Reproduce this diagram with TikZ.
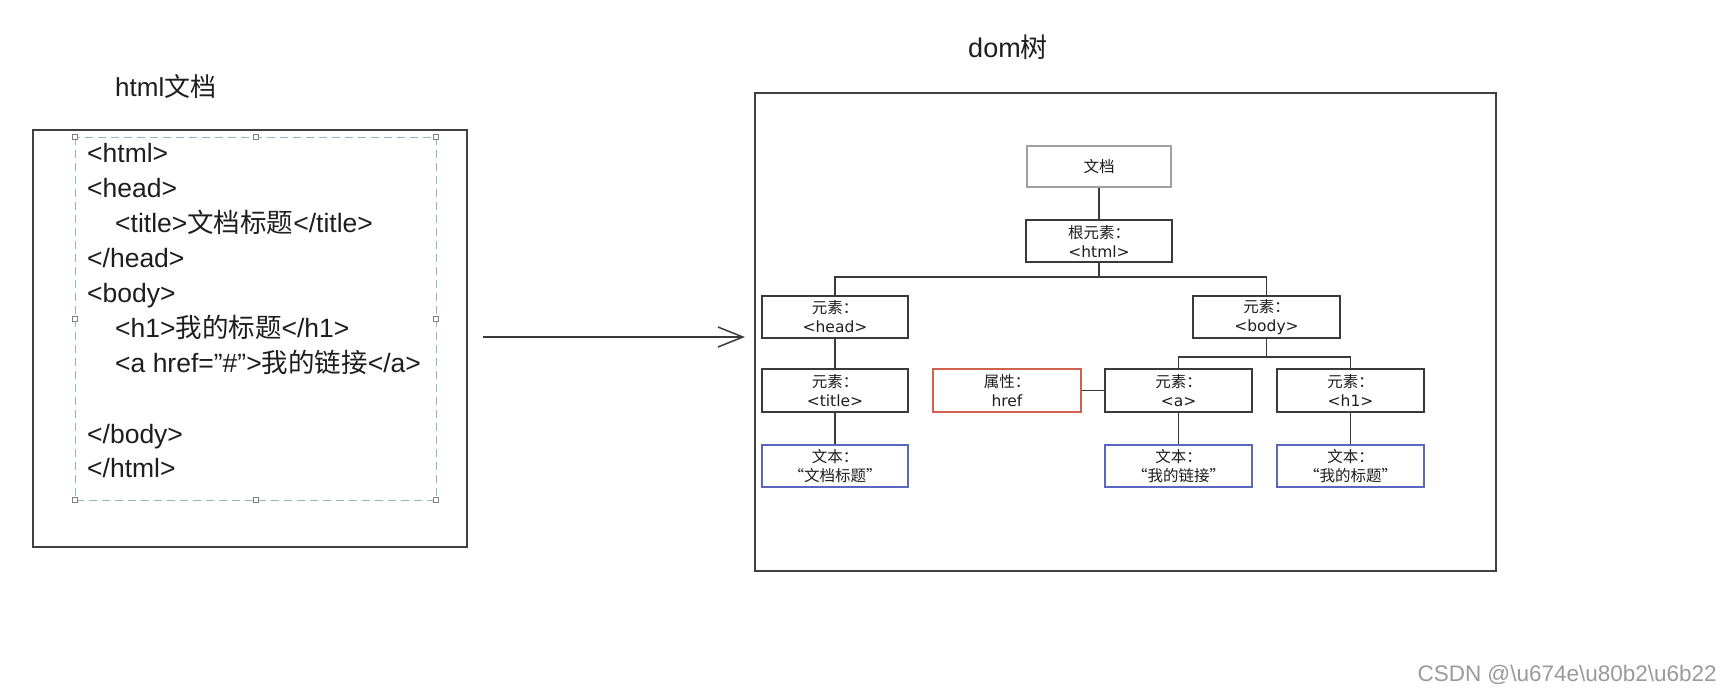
\documentclass[tikz,border=0pt]{standalone}
\usepackage{fontspec}
\setmainfont{Liberation Sans}
\newfontfamily\cjk{Noto Sans CJK SC}
\newfontfamily\dv{DejaVu Sans}
\usetikzlibrary{arrows.meta}
\definecolor{boxline}{HTML}{3A3A3A}
\definecolor{docline}{HTML}{A0A0A0}
\definecolor{redline}{HTML}{D0604F}
\definecolor{blueline}{HTML}{5A66C0}
\definecolor{selline}{HTML}{8FB8C8}
\definecolor{panelline}{HTML}{404040}
\definecolor{txt}{HTML}{1E1E1E}
\definecolor{wm}{HTML}{9A9A9A}
\tikzset{
  panel/.style={draw=panelline, line width=1.8pt, inner sep=0pt},
  tbox/.style={draw=boxline, line width=1.6pt, fill=white, minimum width=146pt, minimum height=42pt,
    inner sep=0pt, align=center, text=txt, font=\fontsize{15.5}{19}\selectfont},
  docbox/.style={tbox, draw=docline, minimum width=144pt, minimum height=41pt},
  attrbox/.style={tbox, draw=redline},
  textbox/.style={tbox, draw=blueline},
  conn/.style={draw=boxline, line width=1.6pt},
  codeline/.style={anchor=mid west, inner sep=0pt, text=txt, font=\fontsize{26.5}{30}\selectfont},
  handle/.style={draw=gray, fill=white, line width=0.8pt, minimum size=5pt, inner sep=0pt},
}
\begin{document}
\begin{tikzpicture}[x=1pt,y=-1pt]
\useasboundingbox (0,0) rectangle (1732,691);
\fill[white] (0,0) rectangle (1732,691);

% left panel
\node[codeline, font=\fontsize{26}{30}\selectfont] (ltitle) at (115,94) {html{\cjk 文档}};
\node[panel, minimum width=434pt, minimum height=417pt] (left) at (250,338.5) {};
\draw[selline, line width=0.9pt, dash pattern=on 8pt off 5pt] (75,137) rectangle (436,500);
\foreach \hx/\hy [count=\i] in {75/137,256/137,436/137,75/319,436/319,75/500,256/500,436/500}
  \node[handle] (h\i) at (\hx,\hy) {};

\node[codeline] (l1) at (87,160) {<html>};
\node[codeline] (l2) at (87,195) {<head>};
\node[codeline] (l3) at (115,230) {<title>{\cjk 文档标题}</title>};
\node[codeline] (l4) at (87,265) {</head>};
\node[codeline] (l5) at (87,300) {<body>};
\node[codeline] (l6) at (115,335) {<h1>{\cjk 我的标题}</h1>};
\node[codeline] (l7) at (115,370) {<a href="\#">{\cjk 我的链接}</a>};
\node[codeline] (l8) at (87,441) {</body>};
\node[codeline] (l9) at (87,475) {</html>};

% arrow
\coordinate (as) at (483,337);
\coordinate (ae) at (745,337);
\draw[line width=1.5pt, boxline, -{Straight Barb[length=25pt, width=20pt, line width=1.5pt]}] (as) -- (ae);

% right panel
\node[anchor=mid, inner sep=0pt, text=txt, font=\fontsize{27}{30}\selectfont] (rtitle) at (1008,55) {dom{\cjk 树}};
\node[panel, minimum width=741pt, minimum height=478pt] (right) at (1125.5,332) {};

\node[docbox] (doc) at (1099,166.5) {{\cjk 文档}};
\node[tbox] (root) at (1099,241) {{\cjk 根元素：}\\{\dv <html>}};
\node[tbox] (head) at (835,317) {{\cjk 元素：}\\{\dv <head>}};
\node[tbox, minimum width=147pt] (body) at (1266.5,317) {{\cjk 元素：}\\{\dv <body>}};
\node[tbox, minimum height=43pt] (title) at (835,390.5) {{\cjk 元素：}\\{\dv <title>}};
\node[attrbox, minimum width=148pt, minimum height=43pt] (href) at (1007,390.5) {{\cjk 属性：}\\{\dv href}};
\node[tbox, minimum width=147pt, minimum height=43pt] (a) at (1178.5,390.5) {{\cjk 元素：}\\{\dv <a>}};
\node[tbox, minimum width=147pt, minimum height=43pt] (h1) at (1350.5,390.5) {{\cjk 元素：}\\{\dv <h1>}};
\node[textbox] (t1) at (835,466) {{\cjk 文本：}\\{\cjk “文档标题”}};
\node[textbox, minimum width=147pt] (ta) at (1178.5,466) {{\cjk 文本：}\\{\cjk “我的链接”}};
\node[textbox, minimum width=147pt] (th) at (1350.5,466) {{\cjk 文本：}\\{\cjk “我的标题”}};

\coordinate (j1) at (1099,277);
\coordinate (j2) at (1266.5,357);
\draw[conn] (doc.south) -- (root.north);
\draw[conn] (root.south) -- (j1);
\draw[conn] (head.north) |- (j1) -| (body.north);
\draw[conn] (body.south) -- (j2);
\draw[conn] (a.north) |- (j2) -| (h1.north);
\draw[conn] (head.south) -- (title.north);
\draw[conn] (title.south) -- (t1.north);
\draw[conn] (a.south) -- (ta.north);
\draw[conn] (h1.south) -- (th.north);
\draw[conn] (href.east) -- (a.west);

% watermark
\node[anchor=mid east, inner sep=0pt, text=wm, font=\fontsize{22.5}{26}\selectfont] (wmark) at (1717,679) {CSDN @\textbackslash u674e\textbackslash u80b2\textbackslash u6b22};
\end{tikzpicture}
\end{document}
